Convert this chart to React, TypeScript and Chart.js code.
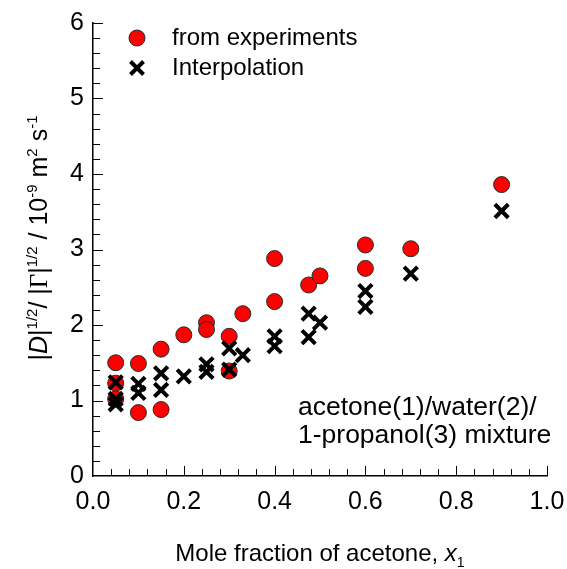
import React, { useEffect, useRef } from "react";
import { Chart, registerables } from "chart.js";

Chart.register(...registerables);

// ---- data ----
const expX = [0.05, 0.05, 0.05, 0.1, 0.1, 0.15, 0.15, 0.2, 0.25, 0.25, 0.3, 0.3, 0.33, 0.4, 0.4, 0.475, 0.5, 0.6, 0.6, 0.7, 0.9];
const expY = [1.5, 1.23, 1.02, 1.49, 0.84, 1.68, 0.88, 1.87, 2.03, 1.94, 1.85, 1.39, 2.15, 2.88, 2.31, 2.53, 2.65, 3.06, 2.75, 3.01, 3.86];
const intX = [0.05, 0.05, 0.05, 0.1, 0.1, 0.15, 0.15, 0.2, 0.25, 0.25, 0.3, 0.3, 0.33, 0.4, 0.4, 0.475, 0.475, 0.5, 0.6, 0.6, 0.7, 0.9];
const intY = [1.24, 1.02, 0.95, 1.22, 1.1, 1.36, 1.14, 1.32, 1.48, 1.38, 1.69, 1.41, 1.6, 1.85, 1.72, 2.15, 1.84, 2.03, 2.45, 2.24, 2.68, 3.51];

const seriesNames = ["from experiments", "Interpolation"];
const annotationLines = ["acetone(1)/water(2)/", "1-propanol(3) mixture"];
const xTicks = [0, 0.2, 0.4, 0.6, 0.8, 1.0];
const yTicks = [0, 1, 2, 3, 4, 5, 6];

const SANS = "'Liberation Sans', Arial, sans-serif";
const SERIF = "'Liberation Serif', 'Times New Roman', serif";

type Seg = { t: string; font: string; dy: number };

function drawRich(ctx: CanvasRenderingContext2D, segs: Seg[], cx: number, cy: number, rotate: boolean) {
  ctx.save();
  ctx.translate(cx, cy);
  if (rotate) ctx.rotate(-Math.PI / 2);
  ctx.textBaseline = "alphabetic";
  ctx.textAlign = "left";
  let total = 0;
  const widths = segs.map((s) => {
    ctx.font = s.font;
    const w = ctx.measureText(s.t).width;
    total += w;
    return w;
  });
  let x = -total / 2;
  segs.forEach((s, i) => {
    ctx.font = s.font;
    ctx.fillText(s.t, x, s.dy);
    x += widths[i];
  });
  ctx.restore();
}

const decorPlugin = {
  id: "decor",
  beforeDatasetsDraw(chart: any) {
    const ctx: CanvasRenderingContext2D = chart.ctx;
    const xs = chart.scales.x;
    const ys = chart.scales.y;
    const area = chart.chartArea;
    ctx.save();
    ctx.strokeStyle = "#000";
    ctx.lineWidth = 1;
    for (let i = 1; i <= 25; i++) {
      const v = i * 0.04;
      const px = Math.round(xs.getPixelForValue(v)) + 0.5;
      const len = i % 5 === 0 ? 10 : 7;
      ctx.beginPath();
      ctx.moveTo(px, area.bottom);
      ctx.lineTo(px, area.bottom - len);
      ctx.stroke();
    }
    for (let i = 1; i <= 30; i++) {
      const v = i * 0.2;
      const py = Math.round(ys.getPixelForValue(v)) + 0.5;
      const len = i % 5 === 0 ? 10 : 7;
      ctx.beginPath();
      ctx.moveTo(area.left, py);
      ctx.lineTo(area.left + len, py);
      ctx.stroke();
    }
    ctx.restore();
  },
  afterDraw(chart: any) {
    const ctx: CanvasRenderingContext2D = chart.ctx;
    const area = chart.chartArea;
    ctx.save();

    // legend
    const lx = 137;
    ctx.beginPath();
    ctx.arc(lx, 38, 8, 0, Math.PI * 2);
    ctx.fillStyle = "#ff0000";
    ctx.fill();
    ctx.lineWidth = 1;
    ctx.strokeStyle = "#2a2a2a";
    ctx.stroke();
    ctx.strokeStyle = "#000";
    ctx.lineWidth = 4;
    const d = 6.5;
    ctx.beginPath();
    ctx.moveTo(lx - d, 68 - d);
    ctx.lineTo(lx + d, 68 + d);
    ctx.moveTo(lx - d, 68 + d);
    ctx.lineTo(lx + d, 68 - d);
    ctx.stroke();

    ctx.fillStyle = "#000";
    ctx.font = `24px ${SANS}`;
    ctx.textAlign = "left";
    ctx.textBaseline = "middle";
    ctx.fillText(seriesNames[0], 172, 38);
    ctx.fillText(seriesNames[1], 172, 68);

    // annotation
    ctx.font = `26.5px ${SANS}`;
    ctx.fillText(annotationLines[0], 298, 408);
    ctx.fillText(annotationLines[1], 298, 436);

    // y title
    const F = 25;
    const n = `${F}px ${SANS}`;
    const it = `italic ${F}px ${SANS}`;
    const sup = `${Math.round(F * 0.6)}px ${SANS}`;
    const sr = `${F}px ${SERIF}`;
    const up = -F * 0.42;
    const ySegs: Seg[] = [
      { t: "|", font: n, dy: 0 },
      { t: "D", font: it, dy: 0 },
      { t: "|", font: n, dy: 0 },
      { t: "1/2", font: sup, dy: up },
      { t: "/ |", font: n, dy: 0 },
      { t: "\u0393", font: sr, dy: 0 },
      { t: "|", font: n, dy: 0 },
      { t: "1/2", font: sup, dy: up },
      { t: " / 10", font: n, dy: 0 },
      { t: "-9", font: sup, dy: up },
      { t: " m", font: n, dy: 0 },
      { t: "2", font: sup, dy: up },
      { t: " s", font: n, dy: 0 },
      { t: "-1", font: sup, dy: up },
    ];
    drawRich(ctx, ySegs, 47, 238, true);

    // x title
    const F2 = 24;
    const xSegs: Seg[] = [
      { t: "Mole fraction of acetone, ", font: `${F2}px ${SANS}`, dy: 0 },
      { t: "x", font: `italic ${F2}px ${SANS}`, dy: 0 },
      { t: "1", font: `${Math.round(F2 * 0.6)}px ${SANS}`, dy: F2 * 0.25 },
    ];
    drawRich(ctx, xSegs, (area.left + area.right) / 2, 561, false);
    ctx.restore();
  },
};

export default function App() {
  const ref = useRef<HTMLCanvasElement | null>(null);
  useEffect(() => {
    if (!ref.current) return;
    const chart = new Chart(ref.current, {
      type: "scatter",
      data: {
        datasets: [
          {
            label: seriesNames[1],
            data: intX.map((x, i) => ({ x, y: intY[i] })),
            pointStyle: "crossRot",
            pointRadius: 9.5,
            borderColor: "#000",
            backgroundColor: "#000",
            pointBorderWidth: 4,
            order: 0,
          },
          {
            label: seriesNames[0],
            data: expX.map((x, i) => ({ x, y: expY[i] })),
            pointStyle: "circle",
            pointRadius: 8,
            backgroundColor: "#ff0000",
            borderColor: "#2a2a2a",
            pointBorderWidth: 1,
            order: 1,
          },
        ],
      },
      options: {
        responsive: false,
        animation: false,
        events: [],
        layout: { padding: { top: 23, right: 20, left: 0, bottom: 0 } },
        plugins: { legend: { display: false }, tooltip: { enabled: false } },
        scales: {
          x: {
            type: "linear",
            min: 0,
            max: 1,
            afterFit: (s: any) => {
              s.height = 93;
              s.paddingLeft = 0;
              s.paddingRight = 0;
              s.paddingTop = 0;
              s.paddingBottom = 0;
            },
            afterBuildTicks: (s: any) => {
              s.ticks = xTicks.map((v) => ({ value: v }));
            },
            grid: { display: false, drawTicks: false, tickLength: 0 },
            border: { display: true, color: "#000", width: 1.5 },
            ticks: {
              color: "#000",
              font: { family: SANS, size: 25 },
              padding: 11,
              maxRotation: 0,
              callback: (v: any) => Number(v).toFixed(1),
            },
          },
          y: {
            type: "linear",
            min: 0,
            max: 6,
            afterFit: (s: any) => {
              s.width = 93;
              s.paddingLeft = 0;
              s.paddingRight = 0;
              s.paddingTop = 0;
              s.paddingBottom = 0;
            },
            afterBuildTicks: (s: any) => {
              s.ticks = yTicks.map((v) => ({ value: v }));
            },
            grid: { display: false, drawTicks: false, tickLength: 0 },
            border: { display: true, color: "#000", width: 1.5 },
            ticks: {
              color: "#000",
              font: { family: SANS, size: 25 },
              padding: 9,
              callback: (v: any) => String(v),
            },
          },
        },
      },
      plugins: [decorPlugin],
    });
    return () => chart.destroy();
  }, []);
  return (
    <div style={{ position: "fixed", left: 0, top: 0, width: 567, height: 569, background: "#fff" }}>
      <canvas ref={ref} width={567} height={569} style={{ display: "block" }} />
    </div>
  );
}
